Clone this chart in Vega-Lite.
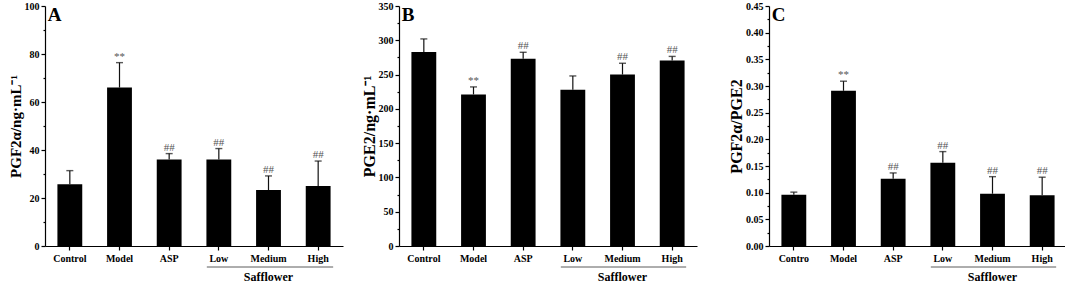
{
  "$schema": "https://vega.github.io/schema/vega-lite/v6.json",
  "autosize": {"type": "pad"},
  "padding": {"left": 8, "top": 1, "right": 0, "bottom": 0},
  "bounds": "flush",
  "spacing": 56,
  "config": {
    "view": {"stroke": null},
    "font": "Liberation Serif",
    "axis": {
      "domainColor": "#000", "tickColor": "#000", "labelColor": "#000", "titleColor": "#000",
      "labelFont": "Liberation Serif", "labelFontWeight": "bold", "labelFontSize": 10,
      "titleFont": "Liberation Serif", "titleFontWeight": "bold", "titleFontSize": 15,
      "grid": false, "domainWidth": 1.2, "tickWidth": 1.2, "labelOverlap": false
    }
  },
  "datasets": {
    "a": [
      {"group": "Control", "mean": 25.7, "upper": 31.4, "sig": ""},
      {"group": "Model", "mean": 66.0, "upper": 76.4, "sig": "**"},
      {"group": "ASP", "mean": 36.0, "upper": 38.5, "sig": "##"},
      {"group": "Low", "mean": 36.0, "upper": 40.6, "sig": "##"},
      {"group": "Medium", "mean": 23.3, "upper": 29.2, "sig": "##"},
      {"group": "High", "mean": 25.0, "upper": 35.4, "sig": "##"}
    ],
    "b": [
      {"group": "Control", "mean": 283, "upper": 302, "sig": ""},
      {"group": "Model", "mean": 221, "upper": 232, "sig": "**"},
      {"group": "ASP", "mean": 273, "upper": 282.5, "sig": "##"},
      {"group": "Low", "mean": 228, "upper": 248, "sig": ""},
      {"group": "Medium", "mean": 250, "upper": 266.5, "sig": "##"},
      {"group": "High", "mean": 270.5, "upper": 276.5, "sig": "##"}
    ],
    "c": [
      {"group": "Contro", "mean": 0.096, "upper": 0.101, "sig": ""},
      {"group": "Model", "mean": 0.291, "upper": 0.309, "sig": "**"},
      {"group": "ASP", "mean": 0.126, "upper": 0.137, "sig": "##"},
      {"group": "Low", "mean": 0.156, "upper": 0.177, "sig": "##"},
      {"group": "Medium", "mean": 0.098, "upper": 0.130, "sig": "##"},
      {"group": "High", "mean": 0.095, "upper": 0.129, "sig": "##"}
    ],
    "bracket": [{"group": "Low", "group2": "High"}],
    "label": [{"group": "Medium", "label": "Safflower"}]
  },
  "hconcat": [
    {
      "width": 298, "height": 240,
      "encoding": {
        "x": {"field": "group", "type": "nominal", "sort": null,
              "scale": {"domain": ["Control", "Model", "ASP", "Low", "Medium", "High"], "paddingInner": 0.5, "paddingOuter": 0.25},
              "axis": {"title": null, "labelAngle": 0, "tickSize": 4, "labelPadding": 3}}
      },
      "layer": [
        {"data": {"name": "a"}, "mark": {"type": "bar", "color": "#000"},
         "encoding": {"y": {"field": "mean", "type": "quantitative", "scale": {"domain": [0, 100], "nice": false},
            "axis": {"title": "PGF2α/ng·mL⁻¹", "values": [0,10,20,30,40,50,60,70,80,90,100], "labelOverlap": false, "labelExpr": "datum.value % 20 === 0 ? datum.label : ''", "tickSize": {"condition": {"test": "datum.value % 20 === 0", "value": 4}, "value": 2}, "labelPadding": 2, "titlePadding": 1}}}},
        {"data": {"name": "a"}, "mark": {"type": "rule", "color": "#111", "strokeWidth": 1.2},
         "encoding": {"y": {"field": "mean", "type": "quantitative",
            "axis": {"title": "PGF2α/ng·mL⁻¹", "values": [0,10,20,30,40,50,60,70,80,90,100], "labelOverlap": false, "labelExpr": "datum.value % 20 === 0 ? datum.label : ''", "tickSize": {"condition": {"test": "datum.value % 20 === 0", "value": 4}, "value": 2}, "labelPadding": 2, "titlePadding": 1}},
            "y2": {"field": "upper"}}},
        {"data": {"name": "a"}, "mark": {"type": "tick", "color": "#111", "thickness": 1.4, "size": 7},
         "encoding": {"y": {"field": "upper", "type": "quantitative",
            "axis": {"title": "PGF2α/ng·mL⁻¹", "values": [0,10,20,30,40,50,60,70,80,90,100], "labelOverlap": false, "labelExpr": "datum.value % 20 === 0 ? datum.label : ''", "tickSize": {"condition": {"test": "datum.value % 20 === 0", "value": 4}, "value": 2}, "labelPadding": 2, "titlePadding": 1}}}},
        {"data": {"name": "a"}, "mark": {"type": "text", "color": "#555", "fontSize": 11, "baseline": "alphabetic", "dy": -3},
         "encoding": {"y": {"field": "upper", "type": "quantitative",
            "axis": {"title": "PGF2α/ng·mL⁻¹", "values": [0,10,20,30,40,50,60,70,80,90,100], "labelOverlap": false, "labelExpr": "datum.value % 20 === 0 ? datum.label : ''", "tickSize": {"condition": {"test": "datum.value % 20 === 0", "value": 4}, "value": 2}, "labelPadding": 2, "titlePadding": 1}},
            "text": {"field": "sig"}}},
        {"data": {"name": "bracket"}, "mark": {"type": "rule", "color": "#333", "strokeWidth": 0.8, "xOffset": -12, "x2Offset": 15, "yOffset": 21},
         "encoding": {"x2": {"field": "group2"}, "y": {"datum": 0, "type": "quantitative",
            "axis": {"title": "PGF2α/ng·mL⁻¹", "values": [0,10,20,30,40,50,60,70,80,90,100], "labelOverlap": false, "labelExpr": "datum.value % 20 === 0 ? datum.label : ''", "tickSize": {"condition": {"test": "datum.value % 20 === 0", "value": 4}, "value": 2}, "labelPadding": 2, "titlePadding": 1}}}},
        {"data": {"name": "label"}, "mark": {"type": "text", "color": "#000", "fontSize": 12, "fontWeight": "bold", "baseline": "middle", "yOffset": 31},
         "encoding": {"y": {"datum": 0, "type": "quantitative",
            "axis": {"title": "PGF2α/ng·mL⁻¹", "values": [0,10,20,30,40,50,60,70,80,90,100], "labelOverlap": false, "labelExpr": "datum.value % 20 === 0 ? datum.label : ''", "tickSize": {"condition": {"test": "datum.value % 20 === 0", "value": 4}, "value": 2}, "labelPadding": 2, "titlePadding": 1}},
            "text": {"field": "label"}}},
        {"data": {"values": [{"group": "Control", "letter": "A"}]},
         "mark": {"type": "text", "color": "#000", "fontSize": 19, "fontWeight": "bold", "align": "left", "baseline": "top", "xOffset": -22, "yOffset": 0},
         "encoding": {"y": {"datum": 100, "type": "quantitative",
            "axis": {"title": "PGF2α/ng·mL⁻¹", "values": [0,10,20,30,40,50,60,70,80,90,100], "labelOverlap": false, "labelExpr": "datum.value % 20 === 0 ? datum.label : ''", "tickSize": {"condition": {"test": "datum.value % 20 === 0", "value": 4}, "value": 2}, "labelPadding": 2, "titlePadding": 1}},
            "text": {"field": "letter"}}}
      ]
    },
    {
      "width": 314, "height": 240,
      "encoding": {
        "x": {"field": "group", "type": "nominal", "sort": null,
              "scale": {"domain": ["Control", "Model", "ASP", "Low", "Medium", "High"], "paddingInner": 0.5, "paddingOuter": 0.25, "range": [0, 298]},
              "axis": {"title": null, "labelAngle": 0, "tickSize": 4, "labelPadding": 3}}
      },
      "layer": [
        {"data": {"name": "b"}, "mark": {"type": "bar", "color": "#000"},
         "encoding": {"y": {"field": "mean", "type": "quantitative", "scale": {"domain": [0, 350], "nice": false},
            "axis": {"title": "PGE2/ng·mL⁻¹", "titleFontSize": 16, "values": [0,25,50,75,100,125,150,175,200,225,250,275,300,325,350], "labelOverlap": false, "labelExpr": "datum.value % 50 === 0 ? datum.label : ''", "tickSize": {"condition": {"test": "datum.value % 50 === 0", "value": 4}, "value": 2}, "labelPadding": 2, "titlePadding": 1}}}},
        {"data": {"name": "b"}, "mark": {"type": "rule", "color": "#111", "strokeWidth": 1.2},
         "encoding": {"y": {"field": "mean", "type": "quantitative",
            "axis": {"title": "PGE2/ng·mL⁻¹", "titleFontSize": 16, "values": [0,25,50,75,100,125,150,175,200,225,250,275,300,325,350], "labelOverlap": false, "labelExpr": "datum.value % 50 === 0 ? datum.label : ''", "tickSize": {"condition": {"test": "datum.value % 50 === 0", "value": 4}, "value": 2}, "labelPadding": 2, "titlePadding": 1}},
            "y2": {"field": "upper"}}},
        {"data": {"name": "b"}, "mark": {"type": "tick", "color": "#111", "thickness": 1.4, "size": 7},
         "encoding": {"y": {"field": "upper", "type": "quantitative",
            "axis": {"title": "PGE2/ng·mL⁻¹", "titleFontSize": 16, "values": [0,25,50,75,100,125,150,175,200,225,250,275,300,325,350], "labelOverlap": false, "labelExpr": "datum.value % 50 === 0 ? datum.label : ''", "tickSize": {"condition": {"test": "datum.value % 50 === 0", "value": 4}, "value": 2}, "labelPadding": 2, "titlePadding": 1}}}},
        {"data": {"name": "b"}, "mark": {"type": "text", "color": "#555", "fontSize": 11, "baseline": "alphabetic", "dy": -3},
         "encoding": {"y": {"field": "upper", "type": "quantitative",
            "axis": {"title": "PGE2/ng·mL⁻¹", "titleFontSize": 16, "values": [0,25,50,75,100,125,150,175,200,225,250,275,300,325,350], "labelOverlap": false, "labelExpr": "datum.value % 50 === 0 ? datum.label : ''", "tickSize": {"condition": {"test": "datum.value % 50 === 0", "value": 4}, "value": 2}, "labelPadding": 2, "titlePadding": 1}},
            "text": {"field": "sig"}}},
        {"data": {"name": "bracket"}, "mark": {"type": "rule", "color": "#333", "strokeWidth": 0.8, "xOffset": -12, "x2Offset": 14, "yOffset": 21},
         "encoding": {"x2": {"field": "group2"}, "y": {"datum": 0, "type": "quantitative",
            "axis": {"title": "PGE2/ng·mL⁻¹", "titleFontSize": 16, "values": [0,25,50,75,100,125,150,175,200,225,250,275,300,325,350], "labelOverlap": false, "labelExpr": "datum.value % 50 === 0 ? datum.label : ''", "tickSize": {"condition": {"test": "datum.value % 50 === 0", "value": 4}, "value": 2}, "labelPadding": 2, "titlePadding": 1}}}},
        {"data": {"name": "label"}, "mark": {"type": "text", "color": "#000", "fontSize": 12, "fontWeight": "bold", "baseline": "middle", "yOffset": 31},
         "encoding": {"y": {"datum": 0, "type": "quantitative",
            "axis": {"title": "PGE2/ng·mL⁻¹", "titleFontSize": 16, "values": [0,25,50,75,100,125,150,175,200,225,250,275,300,325,350], "labelOverlap": false, "labelExpr": "datum.value % 50 === 0 ? datum.label : ''", "tickSize": {"condition": {"test": "datum.value % 50 === 0", "value": 4}, "value": 2}, "labelPadding": 2, "titlePadding": 1}},
            "text": {"field": "label"}}},
        {"data": {"values": [{"group": "Control", "letter": "B"}]},
         "mark": {"type": "text", "color": "#000", "fontSize": 19, "fontWeight": "bold", "align": "left", "baseline": "top", "xOffset": -22, "yOffset": 0},
         "encoding": {"y": {"datum": 350, "type": "quantitative",
            "axis": {"title": "PGE2/ng·mL⁻¹", "titleFontSize": 16, "values": [0,25,50,75,100,125,150,175,200,225,250,275,300,325,350], "labelOverlap": false, "labelExpr": "datum.value % 50 === 0 ? datum.label : ''", "tickSize": {"condition": {"test": "datum.value % 50 === 0", "value": 4}, "value": 2}, "labelPadding": 2, "titlePadding": 1}},
            "text": {"field": "letter"}}}
      ]
    },
    {
      "width": 298, "height": 240,
      "encoding": {
        "x": {"field": "group", "type": "nominal", "sort": null,
              "scale": {"domain": ["Contro", "Model", "ASP", "Low", "Medium", "High"], "paddingInner": 0.5, "paddingOuter": 0.25},
              "axis": {"title": null, "labelAngle": 0, "tickSize": 4, "labelPadding": 3}}
      },
      "layer": [
        {"data": {"name": "c"}, "mark": {"type": "bar", "color": "#000"},
         "encoding": {"y": {"field": "mean", "type": "quantitative", "scale": {"domain": [0, 0.45], "nice": false},
            "axis": {"title": "PGF2α/PGE2", "titleFontSize": 16, "format": ".2f", "values": [0,0.025,0.05,0.075,0.1,0.125,0.15,0.175,0.2,0.225,0.25,0.275,0.3,0.325,0.35,0.375,0.4,0.425,0.45], "labelOverlap": false, "labelExpr": "round(datum.value * 1000) % 50 === 0 ? datum.label : ''", "tickSize": {"condition": {"test": "round(datum.value * 1000) % 50 === 0", "value": 4}, "value": 2}, "labelPadding": 2, "titlePadding": 1}}}},
        {"data": {"name": "c"}, "mark": {"type": "rule", "color": "#111", "strokeWidth": 1.2},
         "encoding": {"y": {"field": "mean", "type": "quantitative",
            "axis": {"title": "PGF2α/PGE2", "titleFontSize": 16, "format": ".2f", "values": [0,0.025,0.05,0.075,0.1,0.125,0.15,0.175,0.2,0.225,0.25,0.275,0.3,0.325,0.35,0.375,0.4,0.425,0.45], "labelOverlap": false, "labelExpr": "round(datum.value * 1000) % 50 === 0 ? datum.label : ''", "tickSize": {"condition": {"test": "round(datum.value * 1000) % 50 === 0", "value": 4}, "value": 2}, "labelPadding": 2, "titlePadding": 1}},
            "y2": {"field": "upper"}}},
        {"data": {"name": "c"}, "mark": {"type": "tick", "color": "#111", "thickness": 1.4, "size": 7},
         "encoding": {"y": {"field": "upper", "type": "quantitative",
            "axis": {"title": "PGF2α/PGE2", "titleFontSize": 16, "format": ".2f", "values": [0,0.025,0.05,0.075,0.1,0.125,0.15,0.175,0.2,0.225,0.25,0.275,0.3,0.325,0.35,0.375,0.4,0.425,0.45], "labelOverlap": false, "labelExpr": "round(datum.value * 1000) % 50 === 0 ? datum.label : ''", "tickSize": {"condition": {"test": "round(datum.value * 1000) % 50 === 0", "value": 4}, "value": 2}, "labelPadding": 2, "titlePadding": 1}}}},
        {"data": {"name": "c"}, "mark": {"type": "text", "color": "#555", "fontSize": 11, "baseline": "alphabetic", "dy": -3},
         "encoding": {"y": {"field": "upper", "type": "quantitative",
            "axis": {"title": "PGF2α/PGE2", "titleFontSize": 16, "format": ".2f", "values": [0,0.025,0.05,0.075,0.1,0.125,0.15,0.175,0.2,0.225,0.25,0.275,0.3,0.325,0.35,0.375,0.4,0.425,0.45], "labelOverlap": false, "labelExpr": "round(datum.value * 1000) % 50 === 0 ? datum.label : ''", "tickSize": {"condition": {"test": "round(datum.value * 1000) % 50 === 0", "value": 4}, "value": 2}, "labelPadding": 2, "titlePadding": 1}},
            "text": {"field": "sig"}}},
        {"data": {"name": "bracket"}, "mark": {"type": "rule", "color": "#333", "strokeWidth": 0.8, "xOffset": -12, "x2Offset": 14, "yOffset": 21},
         "encoding": {"x2": {"field": "group2"}, "y": {"datum": 0, "type": "quantitative",
            "axis": {"title": "PGF2α/PGE2", "titleFontSize": 16, "format": ".2f", "values": [0,0.025,0.05,0.075,0.1,0.125,0.15,0.175,0.2,0.225,0.25,0.275,0.3,0.325,0.35,0.375,0.4,0.425,0.45], "labelOverlap": false, "labelExpr": "round(datum.value * 1000) % 50 === 0 ? datum.label : ''", "tickSize": {"condition": {"test": "round(datum.value * 1000) % 50 === 0", "value": 4}, "value": 2}, "labelPadding": 2, "titlePadding": 1}}}},
        {"data": {"name": "label"}, "mark": {"type": "text", "color": "#000", "fontSize": 12, "fontWeight": "bold", "baseline": "middle", "yOffset": 31},
         "encoding": {"y": {"datum": 0, "type": "quantitative",
            "axis": {"title": "PGF2α/PGE2", "titleFontSize": 16, "format": ".2f", "values": [0,0.025,0.05,0.075,0.1,0.125,0.15,0.175,0.2,0.225,0.25,0.275,0.3,0.325,0.35,0.375,0.4,0.425,0.45], "labelOverlap": false, "labelExpr": "round(datum.value * 1000) % 50 === 0 ? datum.label : ''", "tickSize": {"condition": {"test": "round(datum.value * 1000) % 50 === 0", "value": 4}, "value": 2}, "labelPadding": 2, "titlePadding": 1}},
            "text": {"field": "label"}}},
        {"data": {"values": [{"group": "Contro", "letter": "C"}]},
         "mark": {"type": "text", "color": "#000", "fontSize": 19, "fontWeight": "bold", "align": "left", "baseline": "top", "xOffset": -22, "yOffset": 0},
         "encoding": {"y": {"datum": 0.45, "type": "quantitative",
            "axis": {"title": "PGF2α/PGE2", "titleFontSize": 16, "format": ".2f", "values": [0,0.025,0.05,0.075,0.1,0.125,0.15,0.175,0.2,0.225,0.25,0.275,0.3,0.325,0.35,0.375,0.4,0.425,0.45], "labelOverlap": false, "labelExpr": "round(datum.value * 1000) % 50 === 0 ? datum.label : ''", "tickSize": {"condition": {"test": "round(datum.value * 1000) % 50 === 0", "value": 4}, "value": 2}, "labelPadding": 2, "titlePadding": 1}},
            "text": {"field": "letter"}}}
      ]
    }
  ]
}
